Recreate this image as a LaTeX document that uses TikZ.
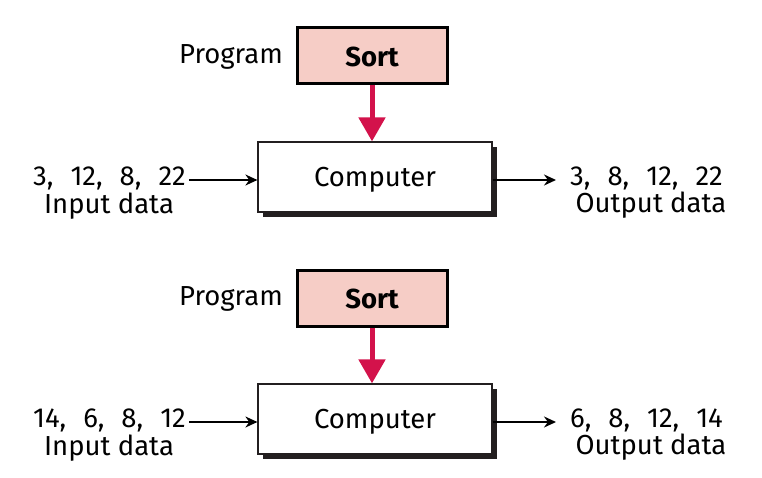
\documentclass[tikz,border=0pt]{standalone}
\usepackage{fontspec}
\setmainfont{Fira Sans}
\usetikzlibrary{arrows.meta}
\definecolor{progfill}{HTML}{F6CDC6}
\definecolor{progred}{HTML}{D3124B}
\definecolor{shadowgray}{HTML}{231F20}
% wide gap between the listed numbers
\newcommand{\numgap}{\hspace{0.62em}}
\begin{document}
\begin{tikzpicture}[x=1pt,y=-1pt,
  txt/.style={inner sep=0pt, font=\fontsize{27.5}{30}\selectfont},
  progbox/.style={draw=black, line width=3pt, fill=progfill, minimum width=150pt, minimum height=56pt, inner sep=0pt},
  compbox/.style={draw=shadowgray, line width=1.2pt, fill=white, minimum width=234pt, minimum height=70pt, inner sep=0pt},
  shadowbox/.style={fill=shadowgray, minimum width=234pt, minimum height=70pt, inner sep=0pt},
  dataarrow/.style={line width=1.8pt, -{Stealth[length=12pt,width=11pt]}},
  progarrow/.style={draw=progred, line width=5pt, -{Triangle[length=24pt,width=26pt]}}
]
\useasboundingbox (0,0) rectangle (762,478);
\foreach \dy/\ia/\oa [count=\i] in {0/{3,\numgap 12,\numgap 8,\numgap 22}/{3,\numgap 8,\numgap 12,\numgap 22}, 242/{14,\numgap 6,\numgap 8,\numgap 12}/{6,\numgap 8,\numgap 12,\numgap 14}} {
  \begin{scope}[yshift=-\dy pt]
    % program box and its label
    \node[progbox] (sort\i) at (372,56) {};
    \node[txt, font=\fontsize{27.5}{30}\selectfont\bfseries] (sortlabel\i) at (372,57) {Sort};
    \node[txt, anchor=east] (plabel\i) at (283,57) {Program};
    % computer box with drop shadow
    \node[shadowbox] (shadow\i) at (380,182) {};
    \node[compbox] (comp\i) at (375,177) {};
    \node[txt] (complabel\i) at (375,180) {Computer};
    % data in and out
    \node[txt, anchor=east] (in\i) at (186,178) {\ia};
    \node[txt] (inlabel\i) at (109,206) {Input data};
    \node[txt, anchor=west] (out\i) at (570,178) {\oa};
    \node[txt] (outlabel\i) at (651,205) {Output data};
    % connectors
    \draw[progarrow] (sort\i.south) -- (sort\i.south |- comp\i.north);
    \draw[dataarrow] (in\i.east) ++(3,2) -- (comp\i.west |- 0,180);
    \draw[dataarrow] (comp\i.east |- 0,180) -- (556,180);
  \end{scope}
}
\end{tikzpicture}
\end{document}
